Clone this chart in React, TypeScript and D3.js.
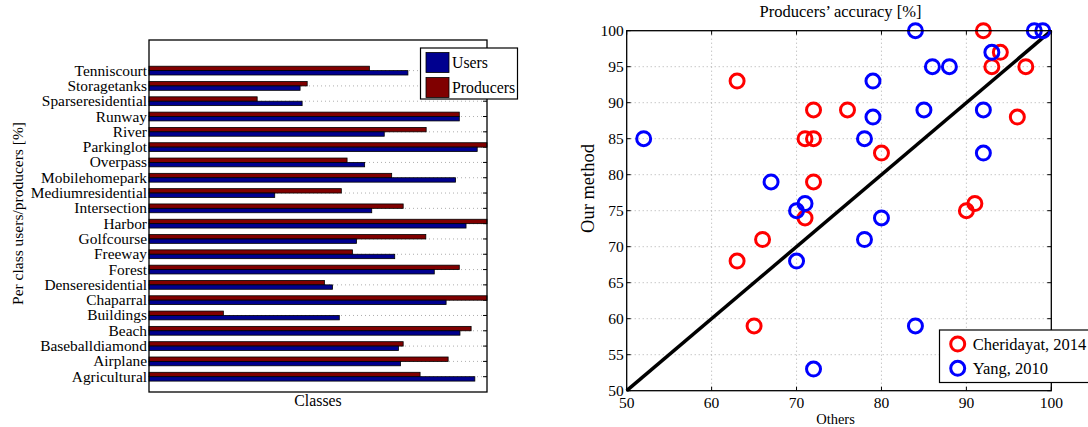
import React from "react";
import * as d3 from "d3";

// per-class accuracies, bottom to top as drawn
const classes = [
  "Agricultural", "Airplane", "Baseballdiamond", "Beach", "Buildings", "Chaparral",
  "Denseresidential", "Forest", "Freeway", "Golfcourse", "Harbor", "Intersection",
  "Mediumresidential", "Mobilehomepark", "Overpass", "Parkinglot", "River", "Runway",
  "Sparseresidential", "Storagetanks", "Tenniscourt",
];
const users = [96.4, 74.4, 73.8, 92.0, 56.3, 87.9, 54.3, 84.4, 72.7, 61.4, 93.8, 65.9, 37.2, 90.7, 63.8, 97.1, 69.6, 91.8, 45.3, 44.7, 76.6];
const producers = [80.2, 88.5, 75.2, 95.3, 22.0, 100, 51.9, 91.8, 60.2, 81.9, 100, 75.2, 56.9, 71.8, 58.6, 100, 82.0, 91.8, 32.0, 46.8, 65.2];

// scatter: [others, our method]
const cheridayat = [
  [63, 93], [72, 89], [71, 85], [72, 85], [72, 79], [71, 74], [66, 71], [63, 68], [65, 59],
  [92, 100], [94, 97], [93, 95], [97, 95], [76, 89], [96, 88], [80, 83], [90, 75], [91, 76],
];
const yang = [
  [52, 85], [67, 79], [70, 75], [71, 76], [70, 68], [72, 53], [84, 100], [98, 100], [99, 100],
  [93, 97], [86, 95], [88, 95], [79, 93], [85, 89], [92, 89], [79, 88], [78, 85], [92, 83],
  [80, 74], [78, 71], [84, 59],
];
const xTicks = [50, 60, 70, 80, 90, 100];
const yTicks = [50, 55, 60, 65, 70, 75, 80, 85, 90, 95, 100];

const font = "'Liberation Serif', 'Times New Roman', serif";
const blueBar = "#00008f";
const redBar = "#800000";

function BarPanel() {
  const L = 149, R = 487, T = 40, B = 392;
  const x = d3.scaleLinear().domain([0, 100]).range([L, R]);
  const y = d3.scaleLinear().domain([0, 23]).range([B, T]);
  const bh = 4.4;
  return (
    <g>
      {classes.map((c, i) => (
        <g key={c}>
          <line x1={L} x2={R} y1={y(i + 1)} y2={y(i + 1)} stroke="#999" strokeDasharray="1,3" strokeWidth={0.8} />
          <line x1={R - 4} x2={R} y1={y(i + 1)} y2={y(i + 1)} stroke="#000" />
        </g>
      ))}
      {classes.map((c, i) => {
        const cy = y(i + 1);
        return (
          <g key={c + "b"}>
            <rect x={L} y={cy - bh} width={x(Math.min(producers[i], 100)) - L} height={bh} fill={redBar} stroke="#000" strokeWidth={0.8} />
            <rect x={L} y={cy} width={x(users[i]) - L} height={bh} fill={blueBar} stroke="#000" strokeWidth={0.8} />
            <text x={L - 2} y={cy + 5} textAnchor="end" fontSize={15.4}>{c}</text>
          </g>
        );
      })}
      <rect x={L} y={T} width={R - L} height={B - T} fill="none" stroke="#000" strokeWidth={1.3} />
      <text x={(L + R) / 2} y={406} textAnchor="middle" fontSize={15.8}>Classes</text>
      <text transform={`translate(22.5,213.5) rotate(-90)`} textAnchor="middle" fontSize={15.5}>
        Per class users/producers [%]
      </text>
      <g>
        <rect x={420.5} y={48} width={97} height={51} fill="#fff" stroke="#000" strokeWidth={1.2} />
        <rect x={426} y={52.5} width={23} height={20} fill={blueBar} stroke="#000" strokeWidth={0.8} />
        <rect x={426} y={77.5} width={23} height={20} fill={redBar} stroke="#000" strokeWidth={0.8} />
        <text x={452} y={67.5} fontSize={15.8}>Users</text>
        <text x={452} y={92.5} fontSize={15.8}>Producers</text>
      </g>
    </g>
  );
}

function ScatterPanel() {
  const L = 626.7, R = 1051.3, T = 30.7, B = 390.7;
  const x = d3.scaleLinear().domain([50, 100]).range([L, R]);
  const y = d3.scaleLinear().domain([50, 100]).range([B, T]);
  const r = 7;
  const sw = 3;
  return (
    <g>
      {xTicks.slice(1, -1).map((t) => (
        <line key={"gx" + t} x1={x(t)} x2={x(t)} y1={T} y2={B} stroke="#999" strokeDasharray="1,3" strokeWidth={0.8} />
      ))}
      {yTicks.slice(1, -1).map((t) => (
        <line key={"gy" + t} x1={L} x2={R} y1={y(t)} y2={y(t)} stroke="#999" strokeDasharray="1,3" strokeWidth={0.8} />
      ))}
      {xTicks.map((t) => (
        <g key={"tx" + t}>
          <line x1={x(t)} x2={x(t)} y1={B} y2={B - 4} stroke="#000" />
          <line x1={x(t)} x2={x(t)} y1={T} y2={T + 4} stroke="#000" />
          <text x={x(t)} y={408} textAnchor="middle" fontSize={15.5}>{t}</text>
        </g>
      ))}
      {yTicks.map((t) => (
        <g key={"ty" + t}>
          <line x1={L} x2={L + 4} y1={y(t)} y2={y(t)} stroke="#000" />
          <line x1={R} x2={R - 4} y1={y(t)} y2={y(t)} stroke="#000" />
          <text x={L - 3} y={y(t) + 4.8} textAnchor="end" fontSize={15.5}>{t}</text>
        </g>
      ))}
      <line x1={x(50)} y1={y(50)} x2={x(100)} y2={y(100)} stroke="#000" strokeWidth={3.5} />
      {cheridayat.map((p, i) => (
        <circle key={"c" + i} cx={x(p[0])} cy={y(p[1])} r={r} fill="none" stroke="#ff0000" strokeWidth={sw} />
      ))}
      {yang.map((p, i) => (
        <circle key={"y" + i} cx={x(p[0])} cy={y(p[1])} r={r} fill="none" stroke="#0000ff" strokeWidth={sw} />
      ))}
      <rect x={L} y={T} width={R - L} height={B - T} fill="none" stroke="#000" strokeWidth={1.3} />
      <text x={(L + R) / 2 + 1.5} y={17} textAnchor="middle" fontSize={16.5}>Producers’ accuracy [%]</text>
      <text x={835.5} y={424} textAnchor="middle" fontSize={14.5}>Others</text>
      <text transform={`translate(594,188.5) rotate(-90)`} textAnchor="middle" fontSize={18.5}>Our method</text>
      <g>
        <rect x={939.5} y={330} width={150} height={52.5} fill="#fff" stroke="#000" strokeWidth={1.2} />
        <circle cx={957.7} cy={344} r={r} fill="none" stroke="#ff0000" strokeWidth={sw} />
        <circle cx={957.7} cy={368.3} r={r} fill="none" stroke="#0000ff" strokeWidth={sw} />
        <text x={972.7} y={350} fontSize={16.5}>Cheridayat, 2014</text>
        <text x={972.7} y={373.5} fontSize={16.5}>Yang, 2010</text>
      </g>
    </g>
  );
}

export default function App() {
  return (
    <svg width={1088} height={427} style={{ position: "absolute", left: 0, top: 0, background: "#fff" }} fontFamily={font}>
      <rect width={1088} height={427} fill="#fff" />
      <BarPanel />
      <ScatterPanel />
    </svg>
  );
}
